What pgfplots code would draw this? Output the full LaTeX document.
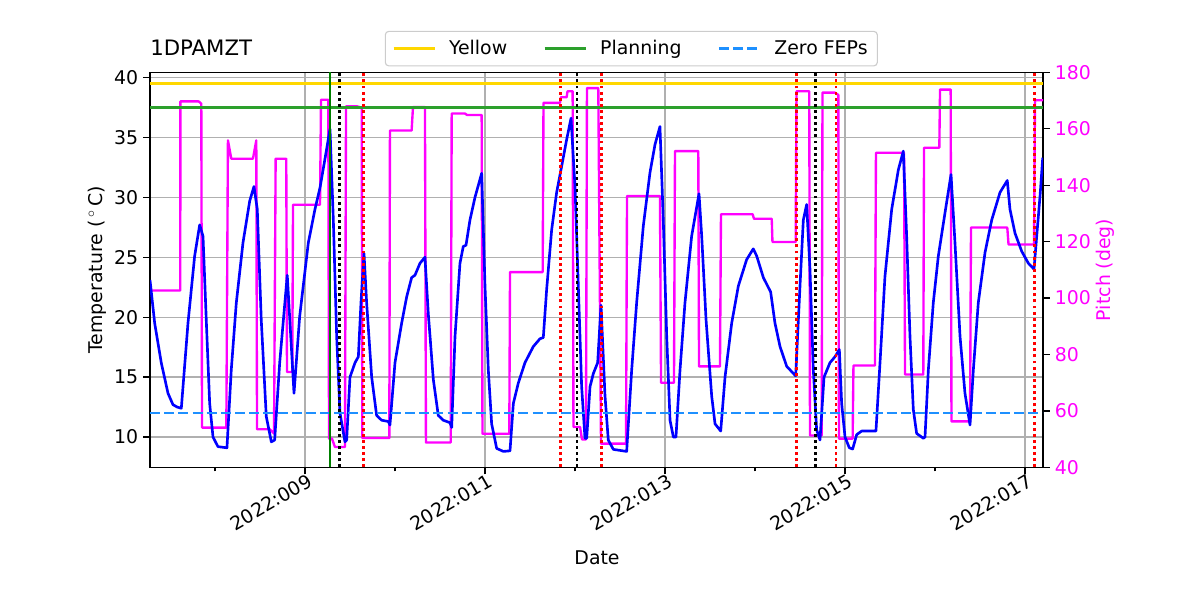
\documentclass[border=0pt]{standalone}
\usepackage{fontspec}
\setmainfont{DejaVu Sans}
\usepackage{pgfplots}
\pgfplotsset{compat=1.18}
\usepackage{pgfplotstable}

\definecolor{gold}{HTML}{FFD700}
\definecolor{tabgreen}{HTML}{2CA02C}
\definecolor{dodger}{HTML}{1E90FF}
\definecolor{darkgreen}{HTML}{008000}
\definecolor{gridgray}{HTML}{B0B0B0}
\definecolor{legframe}{HTML}{CCCCCC}
\definecolor{pmag}{HTML}{FF00FF}
\definecolor{pblue}{HTML}{0000FF}
\definecolor{pred}{HTML}{FF0000}

\pgfplotstableread{
d T
7.278 23.1
7.330 19.5
7.403 16.2
7.478 13.65
7.533 12.7
7.580 12.5
7.626 12.4
7.700 19.5
7.774 25.1
7.830 27.7
7.867 26.75
7.903 19.8
7.941 12.8
7.978 10.0
8.033 9.2
8.133 9.1
8.181 15.6
8.237 21.2
8.311 26.2
8.386 29.7
8.433 30.9
8.470 29.0
8.514 19.8
8.570 11.7
8.626 9.6
8.663 9.75
8.719 16.2
8.803 23.5
8.878 13.65
8.941 20.06
9.037 26.2
9.111 29.0
9.167 30.8
9.222 33.2
9.278 35.7
9.315 28.1
9.352 18.4
9.389 12.0
9.444 9.6
9.463 9.75
9.500 15.0
9.556 16.2
9.593 16.7
9.622 21.2
9.656 25.3
9.685 21.2
9.741 15.0
9.796 11.8
9.852 11.4
9.926 11.3
9.944 11.0
10.000 16.2
10.074 19.5
10.130 21.7
10.185 23.3
10.222 23.5
10.278 24.5
10.333 25.0
10.370 20.3
10.426 14.8
10.481 11.8
10.537 11.4
10.611 11.2
10.630 10.8
10.667 18.4
10.722 24.5
10.759 25.9
10.789 26.0
10.833 28.1
10.889 30.0
10.963 32.0
11.000 22.6
11.037 15.6
11.074 11.1
11.130 9.05
11.204 8.8
11.278 8.85
11.315 12.8
11.370 14.5
11.444 16.2
11.537 17.55
11.611 18.2
11.648 18.3
11.685 22.3
11.741 27.3
11.796 30.4
11.852 32.6
11.907 34.8
11.956 36.6
12.000 30.9
12.037 22.6
12.074 14.2
12.111 9.9
12.130 9.9
12.167 14.2
12.204 15.3
12.252 16.2
12.289 21.0
12.333 13.5
12.370 9.75
12.426 8.97
12.574 8.8
12.630 15.6
12.685 21.2
12.759 27.6
12.833 32.05
12.889 34.4
12.944 35.9
12.981 28.1
13.019 18.4
13.056 11.4
13.093 10.0
13.122 10.0
13.167 15.6
13.222 21.2
13.296 26.75
13.378 30.3
13.408 26.75
13.456 19.8
13.519 13.4
13.556 11.1
13.619 10.5
13.667 15.0
13.741 19.5
13.815 22.6
13.907 24.8
13.981 25.7
14.019 25.1
14.093 23.3
14.174 22.1
14.222 19.5
14.278 17.55
14.352 15.9
14.452 15.1
14.500 22.6
14.537 28.1
14.574 29.4
14.611 24.0
14.648 15.6
14.685 10.6
14.722 9.75
14.767 15.0
14.833 16.2
14.889 16.7
14.937 17.3
14.963 12.8
15.000 10.0
15.048 9.1
15.085 9.0
15.130 10.2
15.185 10.5
15.344 10.5
15.389 16.2
15.444 23.4
15.519 29.0
15.593 32.3
15.648 33.85
15.685 26.75
15.722 18.4
15.759 12.3
15.796 10.3
15.870 9.9
15.889 10.0
15.926 15.6
15.981 21.2
16.037 25.1
16.111 28.7
16.178 31.9
16.222 26.2
16.278 18.4
16.333 13.65
16.389 11.0
16.426 15.6
16.481 21.2
16.556 25.4
16.630 28.1
16.722 30.4
16.803 31.4
16.833 29.0
16.889 27.0
16.963 25.5
17.037 24.5
17.100 24.0
17.130 26.75
17.167 30.1
17.197 33.3
}\temptable

\pgfplotstableread{
d P
7.278 102.7
7.614 102.7
7.616 169.7
7.819 169.7
7.848 168.9
7.856 54.1
8.126 54.1
8.144 155.9
8.181 149.4
8.422 149.4
8.459 155.9
8.467 53.5
8.608 53.5
8.656 52.0
8.674 149.4
8.792 149.4
8.800 73.8
8.859 73.8
8.867 133.1
9.167 133.1
9.178 170.3
9.259 170.3
9.267 50.2
9.300 50.2
9.333 47.2
9.444 47.2
9.456 168.0
9.574 168.0
9.630 167.5
9.637 50.4
9.937 50.4
9.944 159.4
10.185 159.4
10.200 167.7
10.333 167.7
10.344 48.8
10.619 48.8
10.630 165.4
10.778 165.4
10.800 164.9
10.963 164.9
10.972 51.9
11.270 51.9
11.278 109.2
11.641 109.2
11.650 169.2
11.833 169.2
11.844 171.2
11.907 171.2
11.917 173.3
11.974 173.3
11.983 54.3
12.056 54.3
12.078 49.9
12.122 49.9
12.133 174.4
12.259 174.4
12.289 48.4
12.567 48.4
12.578 136.2
12.944 136.2
12.956 70.0
13.100 70.0
13.111 152.1
13.370 152.1
13.378 75.8
13.611 75.8
13.622 129.7
13.974 129.7
13.989 128.1
14.186 128.1
14.194 119.9
14.452 119.9
14.461 173.3
14.603 173.3
14.611 51.3
14.741 51.3
14.750 172.8
14.889 172.8
14.926 172.0
14.933 50.2
15.085 50.2
15.094 76.1
15.333 76.1
15.344 151.5
15.656 151.5
15.667 72.9
15.870 72.9
15.878 153.3
16.048 153.3
16.056 173.9
16.174 173.9
16.183 56.3
16.389 56.3
16.400 125.0
16.803 125.0
16.817 119.0
17.100 119.0
17.111 170.1
17.200 170.1
}\pitchtable

\pgfplotsset{
  myaxis/.style={
    at={(108pt,95.5pt)}, anchor=south west, scale only axis,
    width=642.96pt, height=284.4pt, xmin=7.278, xmax=17.2,
  },
}

\begin{document}
\begin{tikzpicture}[font=\fontsize{13.6}{16.3}\selectfont]
\path[use as bounding box] (0,0) rectangle (864pt,432pt);

% base temperature axis: frame, grid, ticks, labels
\begin{axis}[myaxis, ymin=7.47, ymax=40.42,
  xtick={9,11,13,15,17},
  xticklabels={2022:009,2022:011,2022:013,2022:015,2022:017},
  minor xtick={8,10,12,14,16},
  ytick={10,15,20,25,30,35,40},
  xtick pos=bottom, ytick pos=left,
  tick align=outside,
  major tick length=5pt, minor tick length=2.8pt,
  every tick/.style={black, line width=0.9pt},
  grid=major, major grid style={draw=gridgray, line width=0.9pt},
  axis line style={line width=1pt},
  x tick label style={xshift=2pt, yshift=3.5pt, rotate=30, anchor=north east, inner sep=2pt},
  /pgf/number format/assume math mode=true,
  xlabel={Date}, ylabel={Temperature (\,$^\circ$\,C)},
  every axis x label/.style={at={(axis description cs:0.5006,-0.2296)}, anchor=center},
  every axis y label/.style={at={(axis description cs:-0.0594,0.5)}, anchor=center, rotate=90},
  title={1DPAMZT},
  title style={at={(axis description cs:0,1)}, anchor=base west, yshift=6pt, inner sep=0pt, font=\fontsize{15.3}{18}\selectfont},
]
\end{axis}

% pitch axis
\begin{axis}[myaxis, ymin=40, ymax=180,
  axis x line=none, axis y line*=right,
  ytick={40,60,80,100,120,140,160,180},
  tick align=outside, major tick length=5pt,
  every tick/.style={black, line width=0.9pt},
  axis line style={line width=1pt},
  yticklabel style={color=pmag},
  /pgf/number format/assume math mode=true,
  ylabel={Pitch (deg)},
  every axis y label/.style={at={(axis description cs:1.0703,0.5)}, anchor=center, rotate=90, color=pmag},
]
\addplot[pmag, line width=1.7pt, line join=round] table[x=d, y=P] {\pitchtable};
\end{axis}

% overlay temperature axis: curve, limits, events, legend
\begin{axis}[myaxis, ymin=7.47, ymax=40.42, hide axis,
  legend columns=3,
  legend cell align=left,
  legend image code/.code={\draw[#1] (0pt,0pt) -- (30pt,0pt);},
  legend style={at={(axis description cs:0.539,1.015)}, anchor=south,
    draw=legframe, rounded corners=2.5pt, fill=white, line width=0.8pt,
    inner xsep=5pt, inner ysep=4.5pt,
    /tikz/every odd column/.append style={column sep=7pt},
    /tikz/every even column/.append style={column sep=24pt}},
]
\addplot[pblue, line width=1.9pt, line join=round, forget plot] table[x=d, y=T] {\temptable};
\addplot[gold, line width=1.9pt] coordinates {(7.278,39.5) (17.2,39.5)};
\addlegendentry{Yellow}
\addplot[tabgreen, line width=1.9pt] coordinates {(7.278,37.5) (17.2,37.5)};
\addlegendentry{Planning}
\addplot[dodger, line width=1.9pt, dash pattern=on 7.2pt off 3pt] coordinates {(7.278,12) (17.2,12)};
\addlegendentry{Zero FEPs}
\addplot[darkgreen, line width=1.9pt, forget plot] coordinates {(9.278,7.47) (9.278,40.42)};
\addplot[black, line width=1.9pt, dash pattern=on 2.1pt off 2.3pt, forget plot] coordinates {(9.381,7.47) (9.381,40.42)};
\addplot[black, line width=1.9pt, dash pattern=on 2.1pt off 2.3pt, forget plot] coordinates {(12.022,7.47) (12.022,40.42)};
\addplot[black, line width=1.9pt, dash pattern=on 2.1pt off 2.3pt, forget plot] coordinates {(14.672,7.47) (14.672,40.42)};
\addplot[pred, line width=1.9pt, dash pattern=on 2.1pt off 2.3pt, forget plot] coordinates {(9.648,7.47) (9.648,40.42)};
\addplot[pred, line width=1.9pt, dash pattern=on 2.1pt off 2.3pt, forget plot] coordinates {(11.837,7.47) (11.837,40.42)};
\addplot[pred, line width=1.9pt, dash pattern=on 2.1pt off 2.3pt, forget plot] coordinates {(12.297,7.47) (12.297,40.42)};
\addplot[pred, line width=1.9pt, dash pattern=on 2.1pt off 2.3pt, forget plot] coordinates {(14.46,7.47) (14.46,40.42)};
\addplot[pred, line width=1.9pt, dash pattern=on 2.1pt off 2.3pt, forget plot] coordinates {(14.9,7.47) (14.9,40.42)};
\addplot[pred, line width=1.9pt, dash pattern=on 2.1pt off 2.3pt, forget plot] coordinates {(17.103,7.47) (17.103,40.42)};
\end{axis}
\end{tikzpicture}
\end{document}
